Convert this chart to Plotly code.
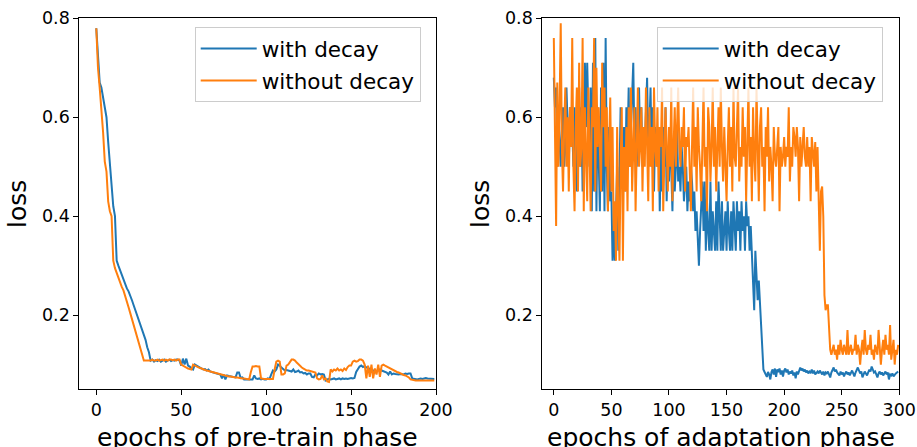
import plotly.graph_objects as go

# ---------------- data ----------------
pretrain_epochs = list(range(200))
pretrain_with_decay = [
    0.78, 0.72, 0.67, 0.66, 0.64, 0.62, 0.60, 0.55, 0.50, 0.47,
    0.42, 0.40, 0.31, 0.300, 0.290, 0.280, 0.270, 0.262, 0.254, 0.248,
    0.240, 0.230, 0.220, 0.210, 0.200, 0.190, 0.180, 0.170, 0.160, 0.150,
    0.135, 0.125, 0.108, 0.110, 0.106, 0.109, 0.107, 0.110, 0.106, 0.108,
    0.110, 0.106, 0.108, 0.110, 0.107, 0.109, 0.108, 0.110, 0.110, 0.108,
    0.098, 0.112, 0.100, 0.112, 0.098, 0.096, 0.092, 0.090, 0.100, 0.098,
    0.096, 0.094, 0.092, 0.090, 0.091, 0.088, 0.090, 0.086, 0.085, 0.084,
    0.083, 0.082, 0.081, 0.080, 0.072, 0.080, 0.070, 0.078, 0.077, 0.076,
    0.075, 0.074, 0.074, 0.084, 0.084, 0.073, 0.074, 0.070, 0.070, 0.071,
    0.070, 0.071, 0.070, 0.078, 0.072, 0.071, 0.072, 0.070, 0.071, 0.070,
    0.070, 0.072, 0.071, 0.080, 0.088, 0.086, 0.090, 0.100, 0.098, 0.094,
    0.090, 0.088, 0.089, 0.088, 0.088, 0.086, 0.090, 0.085, 0.086, 0.088,
    0.084, 0.085, 0.082, 0.083, 0.080, 0.082, 0.082, 0.075, 0.074, 0.080,
    0.078, 0.082, 0.080, 0.081, 0.080, 0.068, 0.070, 0.071, 0.070, 0.071,
    0.072, 0.070, 0.071, 0.072, 0.070, 0.072, 0.071, 0.072, 0.071, 0.072,
    0.073, 0.072, 0.073, 0.085, 0.090, 0.096, 0.098, 0.095, 0.097, 0.094,
    0.094, 0.090, 0.086, 0.088, 0.084, 0.086, 0.088, 0.090, 0.088, 0.087,
    0.085, 0.084, 0.080, 0.086, 0.080, 0.082, 0.081, 0.080, 0.080, 0.081,
    0.080, 0.080, 0.082, 0.081, 0.082, 0.082, 0.072, 0.071, 0.071, 0.070,
    0.071, 0.072, 0.071, 0.072, 0.073, 0.072, 0.072, 0.071, 0.072, 0.071,
]
pretrain_without_decay = [
    0.78, 0.70, 0.66, 0.62, 0.57, 0.51, 0.49, 0.43, 0.41, 0.40,
    0.31, 0.295, 0.285, 0.275, 0.265, 0.257, 0.250, 0.240, 0.228, 0.216,
    0.204, 0.192, 0.180, 0.168, 0.156, 0.144, 0.132, 0.120, 0.108, 0.108,
    0.108, 0.109, 0.108, 0.110, 0.108, 0.108, 0.110, 0.108, 0.109, 0.110,
    0.108, 0.110, 0.108, 0.110, 0.110, 0.109, 0.110, 0.108, 0.110, 0.110,
    0.100, 0.098, 0.095, 0.094, 0.092, 0.091, 0.090, 0.100, 0.098, 0.097,
    0.095, 0.093, 0.092, 0.090, 0.089, 0.088, 0.087, 0.086, 0.085, 0.084,
    0.083, 0.082, 0.081, 0.080, 0.079, 0.079, 0.078, 0.077, 0.076, 0.076,
    0.075, 0.075, 0.074, 0.074, 0.073, 0.073, 0.072, 0.072, 0.071, 0.070,
    0.070, 0.085, 0.096, 0.096, 0.097, 0.096, 0.096, 0.072, 0.071, 0.071,
    0.071, 0.071, 0.071, 0.072, 0.071, 0.090, 0.106, 0.108, 0.106, 0.080,
    0.080, 0.082, 0.098, 0.100, 0.106, 0.110, 0.110, 0.108, 0.104, 0.100,
    0.096, 0.094, 0.092, 0.090, 0.088, 0.088, 0.087, 0.086, 0.085, 0.084,
    0.072, 0.070, 0.071, 0.078, 0.070, 0.072, 0.066, 0.065, 0.090, 0.086,
    0.090, 0.088, 0.092, 0.088, 0.090, 0.087, 0.092, 0.089, 0.095, 0.098,
    0.098, 0.106, 0.108, 0.106, 0.107, 0.110, 0.110, 0.108, 0.100, 0.072,
    0.098, 0.075, 0.100, 0.072, 0.092, 0.080, 0.100, 0.075, 0.098, 0.100,
    0.098, 0.096, 0.094, 0.092, 0.090, 0.088, 0.086, 0.085, 0.084, 0.082,
    0.080, 0.079, 0.078, 0.076, 0.074, 0.070, 0.069, 0.068, 0.068, 0.068,
    0.068, 0.068, 0.068, 0.069, 0.068, 0.068, 0.068, 0.069, 0.068, 0.068,
]

adapt_epochs = list(range(300))
adapt_with_decay = [
    0.68, 0.62, 0.66, 0.50, 0.60, 0.54, 0.50, 0.58, 0.62, 0.50,
    0.54, 0.66, 0.58, 0.50, 0.62, 0.54, 0.58, 0.50, 0.62, 0.54,
    0.45, 0.58, 0.66, 0.50, 0.62, 0.45, 0.54, 0.71, 0.58, 0.71,
    0.62, 0.50, 0.66, 0.41, 0.71, 0.45, 0.76, 0.41, 0.62, 0.54,
    0.41, 0.66, 0.45, 0.71, 0.41, 0.76, 0.50, 0.41, 0.58, 0.43,
    0.45, 0.31, 0.37, 0.31, 0.45, 0.50, 0.33, 0.45, 0.62, 0.54,
    0.50, 0.58, 0.45, 0.62, 0.54, 0.66, 0.50, 0.58, 0.66, 0.71,
    0.54, 0.62, 0.50, 0.58, 0.66, 0.54, 0.62, 0.50, 0.58, 0.54,
    0.62, 0.68, 0.54, 0.58, 0.66, 0.50, 0.62, 0.45, 0.58, 0.54,
    0.50, 0.58, 0.41, 0.54, 0.45, 0.58, 0.50, 0.62, 0.43, 0.54,
    0.47, 0.58, 0.50, 0.41, 0.54, 0.45, 0.50, 0.58, 0.47, 0.50,
    0.45, 0.54, 0.50, 0.43, 0.47, 0.50, 0.41, 0.47, 0.43, 0.50,
    0.47, 0.41, 0.45, 0.37, 0.41, 0.33, 0.30, 0.37, 0.43, 0.47,
    0.37, 0.47, 0.33, 0.43, 0.37, 0.33, 0.47, 0.33, 0.41, 0.37,
    0.33, 0.43, 0.33, 0.47, 0.37, 0.33, 0.43, 0.33, 0.37, 0.41,
    0.33, 0.43, 0.37, 0.33, 0.41, 0.33, 0.43, 0.37, 0.33, 0.43,
    0.37, 0.41, 0.33, 0.43, 0.37, 0.40, 0.33, 0.43, 0.38, 0.40,
    0.33, 0.38, 0.33, 0.28, 0.21, 0.33, 0.27, 0.23, 0.27, 0.22,
    0.16, 0.11, 0.09, 0.085, 0.080, 0.075, 0.085, 0.080, 0.070, 0.085,
    0.090, 0.080, 0.092, 0.075, 0.090, 0.085, 0.092, 0.080, 0.088, 0.076,
    0.088, 0.092, 0.084, 0.090, 0.080, 0.086, 0.082, 0.088, 0.078, 0.084,
    0.072, 0.086, 0.080, 0.090, 0.094, 0.088, 0.092, 0.086, 0.090, 0.084,
    0.088, 0.082, 0.086, 0.084, 0.090, 0.082, 0.088, 0.080, 0.084, 0.086,
    0.082, 0.088, 0.084, 0.080, 0.086, 0.078, 0.084, 0.082, 0.086, 0.080,
    0.074, 0.084, 0.088, 0.094, 0.086, 0.090, 0.084, 0.082, 0.078, 0.086,
    0.080, 0.084, 0.076, 0.082, 0.086, 0.080, 0.084, 0.078, 0.082, 0.088,
    0.082, 0.076, 0.084, 0.090, 0.094, 0.088, 0.082, 0.086, 0.074, 0.080,
    0.086, 0.082, 0.078, 0.084, 0.090, 0.086, 0.096, 0.090, 0.084, 0.086,
    0.080, 0.074, 0.082, 0.086, 0.080, 0.084, 0.078, 0.082, 0.086, 0.080,
    0.084, 0.070, 0.080, 0.078, 0.082, 0.076, 0.080, 0.082, 0.084, 0.086,
]
adapt_without_decay = [
    0.76, 0.55, 0.38, 0.67, 0.50, 0.62, 0.79, 0.54, 0.45, 0.58,
    0.66, 0.50, 0.60, 0.45, 0.62, 0.54, 0.76, 0.50, 0.41, 0.58,
    0.66, 0.45, 0.71, 0.50, 0.54, 0.76, 0.41, 0.62, 0.50, 0.43,
    0.66, 0.54, 0.41, 0.62, 0.58, 0.76, 0.45, 0.70, 0.54, 0.62,
    0.50, 0.45, 0.71, 0.58, 0.66, 0.50, 0.62, 0.41, 0.54, 0.64,
    0.45, 0.58, 0.37, 0.43, 0.31, 0.58, 0.41, 0.31, 0.50, 0.62,
    0.31, 0.54, 0.45, 0.58, 0.41, 0.62, 0.50, 0.66, 0.45, 0.54,
    0.62, 0.41, 0.58, 0.66, 0.50, 0.54, 0.62, 0.45, 0.58, 0.50,
    0.66, 0.54, 0.43, 0.62, 0.50, 0.58, 0.41, 0.66, 0.54, 0.50,
    0.62, 0.45, 0.58, 0.54, 0.66, 0.41, 0.50, 0.62, 0.54, 0.45,
    0.58, 0.50, 0.66, 0.43, 0.54, 0.62, 0.50, 0.58, 0.66, 0.54,
    0.50, 0.58, 0.54, 0.62, 0.45, 0.56, 0.54, 0.58, 0.50, 0.41,
    0.54, 0.66, 0.50, 0.58, 0.45, 0.62, 0.54, 0.50, 0.43, 0.58,
    0.66, 0.50, 0.54, 0.41, 0.62, 0.58, 0.47, 0.54, 0.66, 0.50,
    0.58, 0.45, 0.54, 0.62, 0.50, 0.66, 0.54, 0.47, 0.58, 0.50,
    0.43, 0.54, 0.62, 0.50, 0.58, 0.45, 0.66, 0.52, 0.50, 0.58,
    0.66, 0.47, 0.54, 0.50, 0.62, 0.52, 0.58, 0.43, 0.54, 0.66,
    0.50, 0.56, 0.43, 0.62, 0.52, 0.47, 0.66, 0.54, 0.43, 0.58,
    0.62, 0.50, 0.54, 0.41, 0.58, 0.52, 0.62, 0.47, 0.54, 0.50,
    0.43, 0.58, 0.52, 0.50, 0.54, 0.58, 0.41, 0.54, 0.50, 0.52,
    0.56, 0.50, 0.54, 0.52, 0.62, 0.47, 0.54, 0.50, 0.58, 0.56,
    0.52, 0.58, 0.54, 0.43, 0.56, 0.50, 0.54, 0.58, 0.52, 0.50,
    0.56, 0.50, 0.54, 0.43, 0.56, 0.52, 0.50, 0.55, 0.45, 0.54,
    0.43, 0.33, 0.45, 0.46, 0.40, 0.24, 0.21, 0.22, 0.22, 0.18,
    0.13, 0.12, 0.13, 0.14, 0.12, 0.13, 0.11, 0.14, 0.12, 0.15,
    0.13, 0.12, 0.14, 0.13, 0.12, 0.17, 0.12, 0.13, 0.14, 0.12,
    0.13, 0.13, 0.16, 0.12, 0.14, 0.13, 0.10, 0.13, 0.15, 0.12,
    0.17, 0.13, 0.12, 0.14, 0.13, 0.16, 0.12, 0.13, 0.11, 0.14,
    0.13, 0.12, 0.17, 0.14, 0.10, 0.13, 0.15, 0.12, 0.16, 0.13,
    0.14, 0.12, 0.18, 0.11, 0.13, 0.15, 0.10, 0.13, 0.12, 0.14,
]

series_names = ["with decay", "without decay"]
y_ticks = [0.2, 0.4, 0.6, 0.8]
x_ticks_left = [0, 50, 100, 150, 200]
x_ticks_right = [0, 50, 100, 150, 200, 250, 300]
x_titles = ["epochs of pre-train phase", "epochs of adaptation phase"]
y_title = "loss"

# ---------------- styling ----------------
W, H = 917, 447
BLUE, ORANGE = "#1f77b4", "#ff7f0e"
FONT = "DejaVu Sans"


def px_x(p):
    return p / W


def px_y(p):
    return 1 - p / H


fig = go.Figure()

fig.add_trace(go.Scatter(x=pretrain_epochs, y=pretrain_with_decay, mode="lines",
                         name=series_names[0], line=dict(color=BLUE, width=2),
                         xaxis="x", yaxis="y", legend="legend", legendgroup="a"))
fig.add_trace(go.Scatter(x=pretrain_epochs, y=pretrain_without_decay, mode="lines",
                         name=series_names[1], line=dict(color=ORANGE, width=2),
                         xaxis="x", yaxis="y", legend="legend", legendgroup="b"))
fig.add_trace(go.Scatter(x=adapt_epochs, y=adapt_with_decay, mode="lines",
                         name=series_names[0], line=dict(color=BLUE, width=2),
                         xaxis="x2", yaxis="y2", legend="legend2", legendgroup="c"))
fig.add_trace(go.Scatter(x=adapt_epochs, y=adapt_without_decay, mode="lines",
                         name=series_names[1], line=dict(color=ORANGE, width=2),
                         xaxis="x2", yaxis="y2", legend="legend2", legendgroup="d"))

axis_common = dict(
    showline=True, linecolor="black", linewidth=1, mirror=True,
    ticks="outside", ticklen=5, tickwidth=1, tickcolor="black",
    showgrid=False, zeroline=False,
    tickfont=dict(family=FONT, size=17.5, color="black"),
    ticklabelstandoff=0,
)

ydom = [px_y(389.3), px_y(18.3)]

legend_common = dict(
    xanchor="left", yanchor="top",
    bgcolor="rgba(255,255,255,0.8)", bordercolor="#cccccc", borderwidth=1,
    font=dict(family=FONT, size=21.5, color="black"),
    itemwidth=56, tracegroupgap=1, traceorder="grouped",
)

fig.update_layout(
    width=W, height=H,
    margin=dict(l=0, r=0, t=0, b=0, autoexpand=False),
    paper_bgcolor="white", plot_bgcolor="white",
    font=dict(family=FONT, color="black"),
    xaxis=dict(domain=[px_x(79.3), px_x(436)], range=[-10, 200],
               tickvals=x_ticks_left, anchor="y", **axis_common),
    yaxis=dict(domain=ydom, range=[0.05, 0.8], tickvals=y_ticks,
               tickformat=".1f", anchor="x", **axis_common),
    xaxis2=dict(domain=[px_x(542.3), px_x(899.3)], range=[-10, 300],
                tickvals=x_ticks_right, anchor="y2", **axis_common),
    yaxis2=dict(domain=ydom, range=[0.05, 0.8], tickvals=y_ticks,
                tickformat=".1f", anchor="x2", **axis_common),
    legend=dict(x=px_x(194.7), y=px_y(27), **legend_common),
    legend2=dict(x=px_x(656.7), y=px_y(27), **legend_common),
    showlegend=True,
)

annots = [
    dict(text=y_title, x=px_x(17), y=px_y(204), textangle=-90),
    dict(text=y_title, x=px_x(480), y=px_y(204), textangle=-90),
    dict(text=x_titles[0], x=px_x(257.7), y=px_y(437)),
    dict(text=x_titles[1], x=px_x(720.8), y=px_y(437)),
]
for a in annots:
    fig.add_annotation(xref="paper", yref="paper", showarrow=False,
                       xanchor="center", yanchor="middle",
                       font=dict(family=FONT, size=25, color="black"), **a)

fig.write_html(
    "out.html",
    config={"displayModeBar": False},
    post_script="document.body.style.margin='0';document.body.style.overflow='hidden';",
)
